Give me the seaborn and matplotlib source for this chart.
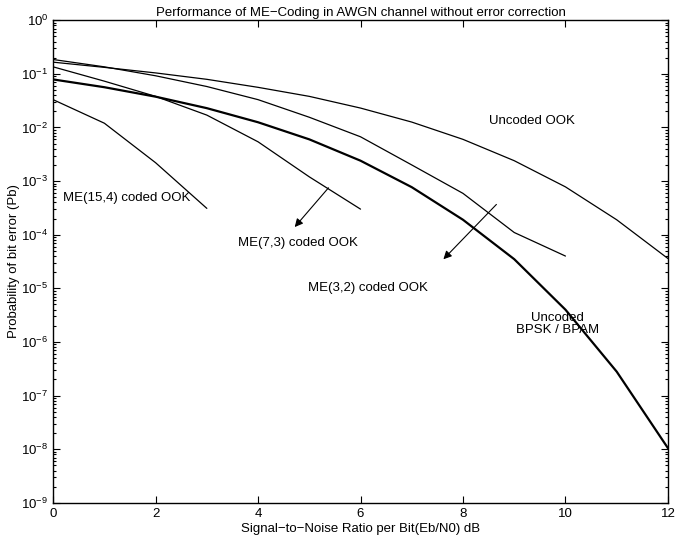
import numpy as np
import pandas as pd
import seaborn as sns
import matplotlib.pyplot as plt
from matplotlib.ticker import LogLocator, NullFormatter

# Eb/N0 in dB
snr = list(range(0, 13))

# Bit error probabilities
ook = [0.165, 0.132, 0.104, 0.079, 0.056, 0.038, 0.023, 0.0126, 0.006, 0.0024, 7.8e-4, 1.9e-4, 3.6e-5]
bpsk = [0.0786, 0.0563, 0.0375, 0.0229, 0.0125, 0.006, 0.0024, 7.7e-4, 1.9e-4, 3.5e-5, 4.0e-6, 2.8e-7, 1.05e-8]
me32 = [0.185, 0.135, 0.092, 0.058, 0.033, 0.0155, 0.0067, 0.0020, 5.9e-4, 1.1e-4, 4.0e-5]
me73 = [0.135, 0.073, 0.038, 0.017, 0.0054, 0.0012, 3.0e-4]
me154 = [0.033, 0.012, 0.0022, 3.1e-4]

sns.set_style("ticks")
plt.rcParams['font.family'] = ['Liberation Sans', 'DejaVu Sans']
plt.rcParams['xtick.direction'] = 'in'
plt.rcParams['ytick.direction'] = 'in'
for k in ['text.color', 'axes.labelcolor', 'xtick.color', 'ytick.color', 'axes.edgecolor']:
    plt.rcParams[k] = 'black'

fig = plt.figure(figsize=(6.9, 5.46), dpi=100)
ax = fig.add_axes([0.077, 0.079, 0.891, 0.884])

curves = [(ook, 0.9), (me32, 0.9), (me73, 0.9), (me154, 0.9), (bpsk, 1.6)]
for vals, lw in curves:
    d = pd.DataFrame({'snr': snr[:len(vals)], 'pb': vals})
    sns.lineplot(data=d, x='snr', y='pb', ax=ax, color='black', linewidth=lw)

ax.set_yscale('log')
ax.set_xlim(0, 12)
ax.set_ylim(1e-9, 1)
ax.set_xticks(range(0, 13, 2))
ax.set_yticks([10.0 ** -k for k in range(0, 10)])
ax.yaxis.set_minor_locator(LogLocator(base=10, subs=np.arange(2, 10), numticks=20))
ax.yaxis.set_minor_formatter(NullFormatter())
ax.tick_params(which='both', top=True, right=True, labelsize=9.5, width=0.8, colors='black')
ax.tick_params(which='major', length=5)
ax.tick_params(which='minor', length=2.5)
for s in ax.spines.values():
    s.set_linewidth(1.0)
    s.set_color('black')

ax.set_title('Performance of ME\u2212Coding in AWGN channel without error correction', fontsize=9.5, pad=3)
ax.set_xlabel('Signal\u2212to\u2212Noise Ratio per Bit(Eb/N0) dB', fontsize=9.5, labelpad=2)
ax.set_ylabel('Probability of bit error (Pb)', fontsize=9.5, labelpad=1)

fs = 9.5
ax.text(8.5, 1.3e-2, 'Uncoded OOK', fontsize=fs, va='center')
ax.text(0.2, 4.9e-4, 'ME(15,4) coded OOK', fontsize=fs, va='center')
ax.text(3.6, 7.0e-5, 'ME(7,3) coded OOK', fontsize=fs, va='center')
ax.text(4.97, 1.03e-5, 'ME(3,2) coded OOK', fontsize=fs, va='center')
ax.text(9.85, 2.2e-6, 'Uncoded\nBPSK / BPAM', fontsize=fs, va='center', ha='center', linespacing=1.0)

arrow = dict(arrowstyle='-|>', color='black', lw=0.8, mutation_scale=12)
ax.annotate('', xy=(4.68, 1.27e-4), xytext=(5.41, 8.2e-4), arrowprops=arrow)
ax.annotate('', xy=(7.58, 3.2e-5), xytext=(8.69, 4.0e-4), arrowprops=arrow)

fig.savefig('out.png', dpi=100)
